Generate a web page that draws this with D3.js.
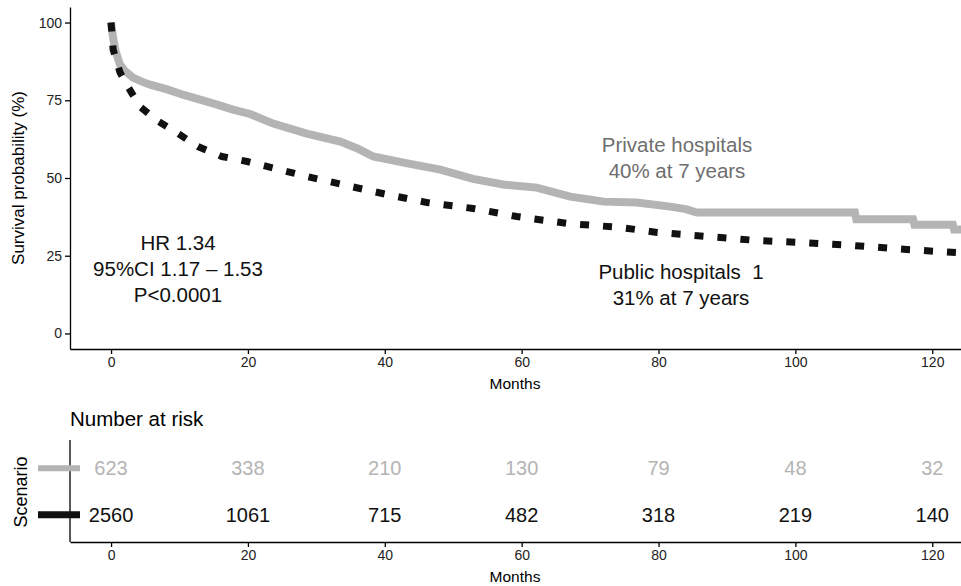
<!DOCTYPE html>
<html>
<head>
<meta charset="utf-8">
<script src="https://cdn.jsdelivr.net/npm/d3@7"></script>
<style>
  body { margin: 0; background: #fff; }
  svg { display: block; font-family: "Liberation Sans", Arial, sans-serif; }
  .axis path, .axis line { stroke: #000; stroke-width: 1.3; }
  .axis text { font-size: 14px; fill: #222; }
</style>
</head>
<body>
<div id="chart"></div>
<script>
'use strict';

// Kaplan-Meier curves (months, survival %)
var privateTimes = [0, 0.3, 0.7, 1.3, 2, 3.2, 4.5, 5.7, 8.2, 10.5, 13, 15.5, 17.8, 20.3, 23.7, 28.6, 33.5, 36, 38.3,
    43.3, 48.1, 52.9, 57.3, 62.2, 67.1, 72, 76.8, 81.7, 84, 85.6, 108.7, 108.9, 117.2, 117.4, 123, 123.2, 124.3];
var privateSurv = [100, 95, 90.5, 86.5, 84.5, 82.3, 81, 80, 78.5, 76.8, 75.2, 73.6, 72, 70.6, 67.5, 64.3, 61.7, 59.5, 56.9,
    54.7, 52.7, 49.7, 47.9, 46.9, 44, 42.4, 42.1, 40.8, 40, 38.9, 38.9, 36.7, 36.7, 35, 35, 33.4, 33.4];

var publicTimes = [0, 0.3, 1.3, 2.3, 4.2, 6.9, 9.6, 12.7, 16.2, 19.9, 28.6, 35, 40.3, 46.2, 52.9, 59.3, 66.6, 74.4,
    79.8, 87.1, 94.4, 100.7, 108.4, 116.3, 124.3];
var publicSurv = [100, 91.3, 84, 80, 73, 68.2, 64.6, 60.1, 56.9, 55.3, 50.5, 47.3, 44.7, 42.1, 40.2, 37.6, 35.4, 34.1,
    32.5, 31.2, 29.9, 29.3, 28.3, 27, 25.9];

// Number at risk table
var riskTimes = [0, 20, 40, 60, 80, 100, 120];
var riskPrivate = [623, 338, 210, 130, 79, 48, 32];
var riskPublic = [2560, 1061, 715, 482, 318, 219, 140];

var xTicks = [0, 20, 40, 60, 80, 100, 120];
var yTicks = [0, 25, 50, 75, 100];

var annotationHR = ['HR 1.34', '95%CI 1.17 \u2013 1.53', 'P<0.0001'];
var labelPrivate = ['Private hospitals', '40% at 7 years'];
var labelPublic = ['Public hospitals\u00a0\u00a01', '31% at 7 years'];

var colors = { private: '#b4b4b4', public: '#111111', privateText: '#6e6e6e' };

var width = 961,
    height = 586,
    left = 70,
    right = 961;

var svg = d3.select('#chart').append('svg')
    .attr('width', width)
    .attr('height', height);

var x = d3.scaleLinear().domain([-6, 124.2]).range([left, right]);
var y = d3.scaleLinear().domain([-5, 105]).range([349, 7]);

// ---- survival panel ----
svg.append('g')
    .attr('class', 'axis')
    .attr('transform', 'translate(' + left + ',0)')
    .call(d3.axisLeft(y).tickValues(yTicks).tickSize(5).tickPadding(3).tickSizeOuter(0));

svg.append('g')
    .attr('class', 'axis')
    .attr('transform', 'translate(0,349)')
    .call(d3.axisBottom(x).tickValues(xTicks).tickSize(5).tickPadding(3).tickSizeOuter(0));

svg.append('text')
    .attr('transform', 'translate(24,178) rotate(-90)')
    .attr('text-anchor', 'middle')
    .style('font-size', '17px')
    .text('Survival probability (%)');

svg.append('text')
    .attr('x', 515).attr('y', 389)
    .attr('text-anchor', 'middle')
    .style('font-size', '15.5px')
    .text('Months');

var line = d3.line()
    .x(function (d) { return x(d[0]); })
    .y(function (d) { return y(d[1]); });

svg.append('path')
    .datum(d3.zip(privateTimes, privateSurv))
    .attr('d', line)
    .attr('fill', 'none')
    .attr('stroke', colors.private)
    .attr('stroke-width', 8);

svg.append('path')
    .datum(d3.zip(publicTimes, publicSurv))
    .attr('d', line)
    .attr('fill', 'none')
    .attr('stroke', colors.public)
    .attr('stroke-width', 7)
    .attr('stroke-dasharray', '9,14');

function multiLine(lines, cx, cy, color, size) {
    var t = svg.append('text')
        .attr('text-anchor', 'middle')
        .style('font-size', size + 'px')
        .attr('fill', color);
    lines.forEach(function (s, i) {
        t.append('tspan').attr('x', cx).attr('y', cy + i * 26).text(s);
    });
}

multiLine(annotationHR, 178, 250, '#111', 20.5);
multiLine(labelPrivate, 677, 152, colors.privateText, 20.5);
multiLine(labelPublic, 681, 279, '#111', 20.5);

// ---- risk table ----
var yr = d3.scaleBand().domain(['Public', 'Private']).range([538, 445]);

svg.append('text')
    .attr('x', 70).attr('y', 426)
    .style('font-size', '20.5px')
    .text('Number at risk');

svg.append('line')
    .attr('x1', left).attr('x2', left)
    .attr('y1', 440).attr('y2', 542)
    .attr('stroke', '#000').attr('stroke-width', 1.3);

svg.append('g')
    .attr('class', 'axis')
    .attr('transform', 'translate(0,542)')
    .call(d3.axisBottom(x).tickValues(xTicks).tickSize(5).tickPadding(3).tickSizeOuter(0));

svg.append('text')
    .attr('x', 515).attr('y', 582)
    .attr('text-anchor', 'middle')
    .style('font-size', '15.5px')
    .text('Months');

svg.append('text')
    .attr('transform', 'translate(27,492) rotate(-90)')
    .attr('text-anchor', 'middle')
    .style('font-size', '18px')
    .text('Scenario');

var rows = [
    { key: 'Private', values: riskPrivate, color: colors.private, w: 6 },
    { key: 'Public', values: riskPublic, color: colors.public, w: 7 }
];

rows.forEach(function (r) {
    var cy = yr(r.key) + yr.bandwidth() / 2;
    svg.append('line')
        .attr('x1', 38).attr('x2', 80)
        .attr('y1', cy).attr('y2', cy)
        .attr('stroke', r.color)
        .attr('stroke-width', r.w);
    svg.selectAll(null)
        .data(riskTimes)
        .enter().append('text')
        .attr('x', function (d) { return x(d); })
        .attr('y', cy + 7)
        .attr('text-anchor', 'middle')
        .style('font-size', '20px')
        .attr('fill', r.color)
        .text(function (d, i) { return r.values[i]; });
});
</script>
</body>
</html>
